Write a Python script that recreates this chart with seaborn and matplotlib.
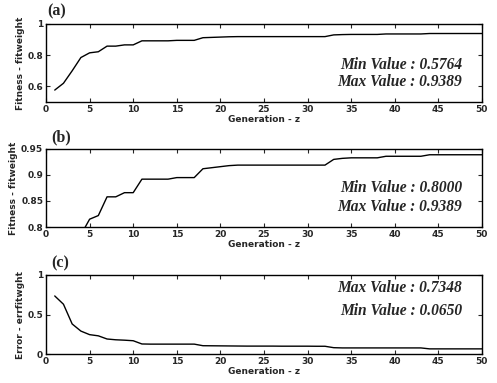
import numpy as np
import pandas as pd
import seaborn as sns
import matplotlib.pyplot as plt

# values
generation = list(range(1, 51))
fitness = [0.5764, 0.62, 0.70, 0.785, 0.815, 0.822, 0.858, 0.858, 0.866, 0.866,
           0.892, 0.892, 0.892, 0.892, 0.895, 0.895, 0.895, 0.912, 0.914, 0.916,
           0.918, 0.919, 0.919, 0.919, 0.919, 0.919, 0.919, 0.919, 0.919, 0.919,
           0.919, 0.919, 0.930, 0.932, 0.933, 0.933, 0.933, 0.933, 0.936, 0.936,
           0.936, 0.936, 0.936, 0.9389, 0.9389, 0.9389, 0.9389, 0.9389, 0.9389, 0.9389]
error = [0.7348, 0.63, 0.38, 0.29, 0.245, 0.23, 0.19, 0.18, 0.175, 0.168,
         0.127, 0.125, 0.125, 0.125, 0.125, 0.125, 0.125, 0.105, 0.104, 0.103,
         0.102, 0.101, 0.100, 0.100, 0.100, 0.100, 0.099, 0.099, 0.099, 0.099,
         0.098, 0.098, 0.080, 0.077, 0.077, 0.077, 0.077, 0.077, 0.077, 0.077,
         0.077, 0.077, 0.077, 0.065, 0.065, 0.065, 0.065, 0.065, 0.065, 0.065]

panel_tags = ['(a)', '(b)', '(c)']
ylabels = ['Fitness - fitweight', 'Fitness - fitweight', 'Error - errfitwght']
notes = [['Min Value : 0.5764', 'Max Value : 0.9389'],
         ['Min Value : 0.8000', 'Max Value : 0.9389'],
         ['Max Value : 0.7348', 'Min Value : 0.0650']]

df = pd.DataFrame({'gen': generation, 'fitness': fitness, 'error': error})

sns.set_theme(style='ticks')
plt.rcParams['font.family'] = ['DejaVu Sans']
fig = plt.figure(figsize=(4.97, 3.83), dpi=100)

boxes = [[0.0926, 0.7337, 0.877, 0.2037],
         [0.0926, 0.4073, 0.877, 0.2037],
         [0.0926, 0.0757, 0.877, 0.2063]]
cols = ['fitness', 'fitness', 'error']
ylims = [(0.5, 1.0), (0.8, 0.95), (0, 1)]
yticks = [[0.6, 0.8, 1], [0.8, 0.85, 0.9, 0.95], [0, 0.5, 1]]
yticklabels = [['0.6', '0.8', '1'], ['0.8', '0.85', '0.9', '0.95'], ['0', '0.5', '1']]
note_y = [(0.47, 0.25), (0.5, 0.26), (0.83, 0.55)]
tag_pos = [(0.095, 0.969), (0.103, 0.642), (0.103, 0.313)]

for i in range(3):
    ax = fig.add_axes(boxes[i])
    sns.lineplot(data=df, x='gen', y=cols[i], ax=ax, color='black', linewidth=1.0)
    ax.set_xlim(0, 50)
    ax.set_ylim(*ylims[i])
    ax.set_xticks(range(0, 51, 5))
    ax.set_yticks(yticks[i])
    ax.set_yticklabels(yticklabels[i])
    ax.tick_params(direction='in', top=True, right=True, length=3, width=0.8,
                   labelsize=6.5, pad=2)
    for lab in ax.get_xticklabels() + ax.get_yticklabels():
        lab.set_fontweight('bold')
    for sp in ax.spines.values():
        sp.set_linewidth(1.0)
        sp.set_color('black')
    ax.set_xlabel('Generation - z', fontsize=6.5, fontweight='bold', labelpad=1)
    ax.set_ylabel(ylabels[i], fontsize=6.5, fontweight='bold', labelpad=2)
    for txt, yy in zip(notes[i], note_y[i]):
        ax.text(0.955, yy, txt, transform=ax.transAxes, ha='right', va='center',
                fontsize=11.2, fontweight='bold', fontstyle='italic',
                family='Liberation Serif')
    fig.text(tag_pos[i][0], tag_pos[i][1], panel_tags[i], ha='left', va='center',
             fontsize=11.5, fontweight='bold', family='Liberation Serif')

fig.savefig('out.png', dpi=100)
